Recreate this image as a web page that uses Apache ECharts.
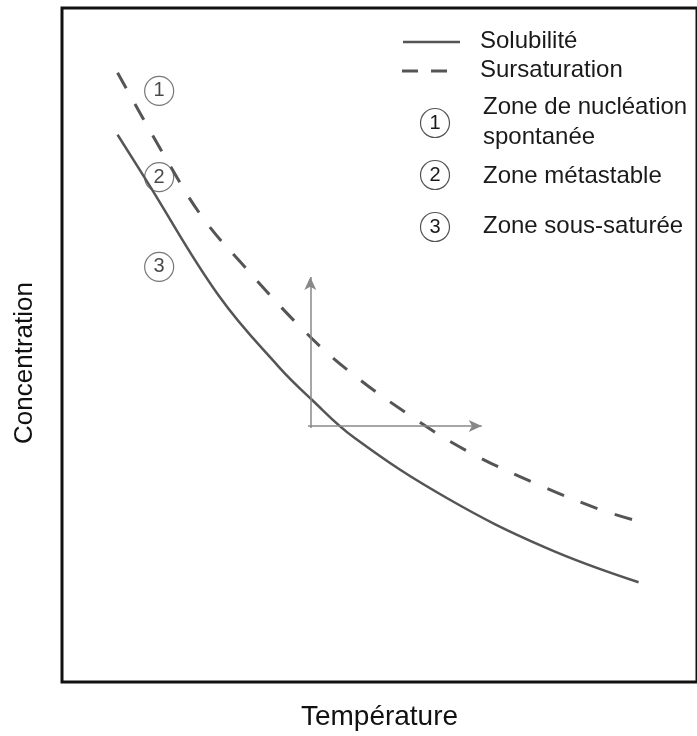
<!DOCTYPE html>
<html>
<head>
<meta charset="utf-8">
<script src="https://cdn.jsdelivr.net/npm/echarts@6/dist/echarts.min.js"></script>
<style>
html,body{margin:0;padding:0;background:#fff;}
#chart{width:697px;height:736px;}
</style>
</head>
<body>
<div id="chart"></div>
<script>
// Temperature (x) / concentration (y), arbitrary units 0-100
var solubilite = [[8.75,81.2],[13.3,74.4],[24.7,57.3],[34.1,46.8],[39.1,42.1],[46.1,36.2],[60.6,27.3],[76.25,19.9],[90.8,14.8]];
var sursaturation = [[8.75,90.4],[15.8,78.6],[22.0,69.1],[28.1,62.3],[37.5,52.7],[44.7,46.5],[54.7,39.6],[63.75,34.3],[74.7,29.4],[84.7,25.6],[89.8,24.1]];
var zoneMarks = [[15.3,87.7,'1'],[15.3,74.9,'2'],[15.3,61.6,'3']];
var arrowVertical = [[39.1,37.7],[39.1,60.1]];
var arrowHorizontal = [[38.75,38.0],[66.1,38.0]];
var legendItems = ['Solubilité','Sursaturation'];
var zoneLabels = [['1','Zone de nucléation','spontanée'],['2','Zone métastable'],['3','Zone sous-saturée']];

var FONT = 'Liberation Sans, Arial, sans-serif';
var chart = echarts.init(document.getElementById('chart'), null, {renderer:'canvas'});

var graphics = [];
// legend lines
graphics.push({type:'line', shape:{x1:403,y1:42,x2:460,y2:42}, style:{stroke:'#555',lineWidth:2.5}});
graphics.push({type:'line', shape:{x1:402,y1:71,x2:460,y2:71}, style:{stroke:'#555',lineWidth:3,lineDash:[16,13]}});
graphics.push({type:'text', left:480, top:29, style:{text:legendItems[0], font:'24px '+FONT, fill:'#1a1a1a'}});
graphics.push({type:'text', left:480, top:58, style:{text:legendItems[1], font:'24px '+FONT, fill:'#1a1a1a'}});
var zoneCircleY = [123,175,227];
var zoneTextY = [[95,125],[164],[214]];
zoneLabels.forEach(function(z,i){
  graphics.push({type:'circle', shape:{cx:435, cy:zoneCircleY[i], r:14.5}, style:{fill:'none', stroke:'#555', lineWidth:1.2}});
  graphics.push({type:'text', x:435, y:zoneCircleY[i], style:{text:z[0], font:'20px '+FONT, fill:'#1a1a1a', align:'center', verticalAlign:'middle'}});
  for (var k=1;k<z.length;k++){
    graphics.push({type:'text', left:483, top:zoneTextY[i][k-1], style:{text:z[k], font:'24px '+FONT, fill:'#1a1a1a'}});
  }
});

chart.setOption({
  backgroundColor:'#fff',
  animation:false,
  grid:{left:62, top:8, width:644, height:677, show:true, borderColor:'#111', borderWidth:3, backgroundColor:'#fff'},
  xAxis:{type:'value', min:0, max:100, name:'Température', nameLocation:'middle', nameGap:21,
    nameTextStyle:{fontFamily:FONT, fontSize:28, color:'#111'},
    axisLine:{show:false}, axisTick:{show:false}, axisLabel:{show:false}, splitLine:{show:false}},
  yAxis:{type:'value', min:0, max:100, name:'Concentration', nameLocation:'middle', nameGap:24, nameRotate:90,
    nameTextStyle:{fontFamily:FONT, fontSize:26, color:'#111', padding:[0,36,0,0]},
    axisLine:{show:false}, axisTick:{show:false}, axisLabel:{show:false}, splitLine:{show:false}},
  series:[
    {name:'Solubilité', type:'line', data:solubilite, smooth:0.4, symbol:'none', lineStyle:{color:'#555', width:2.5}, silent:true},
    {name:'Sursaturation', type:'line', data:sursaturation, smooth:0.4, symbol:'none', lineStyle:{color:'#555', width:3, type:[18,18], cap:'butt'}, silent:true},
    {name:'arrows', type:'line', data:[], silent:true,
      markLine:{silent:true, symbol:['none','arrow'], symbolSize:[9,13], label:{show:false},
        lineStyle:{color:'#888', width:1.5, type:'solid'},
        data:[
          [{coord:arrowVertical[0]},{coord:arrowVertical[1]}],
          [{coord:arrowHorizontal[0]},{coord:arrowHorizontal[1]}]
        ]}},
    {name:'zones', type:'scatter', data:zoneMarks, symbol:'circle', symbolSize:29, silent:true,
      itemStyle:{color:'rgba(0,0,0,0)', borderColor:'#555', borderWidth:1.2},
      label:{show:true, position:'inside', formatter:function(p){return p.data[2];}, fontFamily:FONT, fontSize:20, color:'#1a1a1a'}}
  ],
  graphic:graphics
});
</script>
</body>
</html>
